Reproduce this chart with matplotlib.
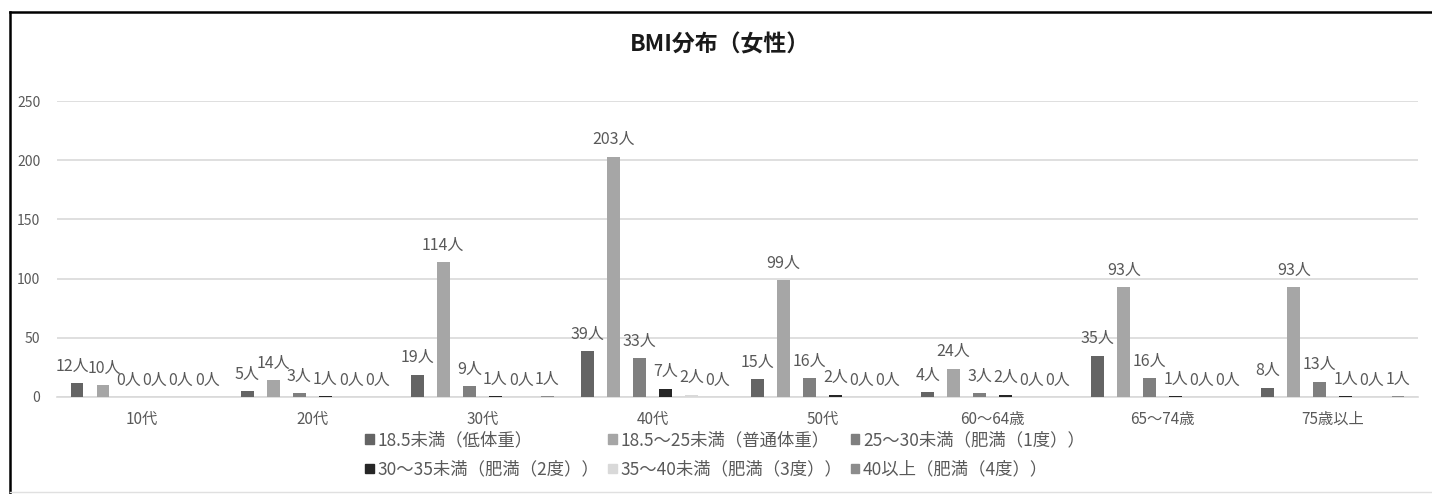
import numpy as np
import matplotlib.pyplot as plt
from matplotlib.patches import Patch
from matplotlib.lines import Line2D

plt.rcParams['font.family'] = ['Noto Sans CJK JP', 'DejaVu Sans']

ages = ['10代', '20代', '30代', '40代', '50代', '60～64歳', '65～74歳', '75歳以上']
series_names = ['18.5未満（低体重）', '18.5～25未満（普通体重）', '25～30未満（肥満（1度））',
                '30～35未満（肥満（2度））', '35～40未満（肥満（3度））', '40以上（肥満（4度））']
underweight = [12, 5, 19, 39, 15, 4, 35, 8]
normal = [10, 14, 114, 203, 99, 24, 93, 93]
obese1 = [0, 3, 9, 33, 16, 3, 16, 13]
obese2 = [0, 1, 1, 7, 2, 2, 1, 1]
obese3 = [0, 0, 0, 2, 0, 0, 0, 0]
obese4 = [0, 0, 1, 0, 0, 0, 0, 1]
all_series = [underweight, normal, obese1, obese2, obese3, obese4]
colors = ['#646464', '#a6a6a6', '#7f7f7f', '#262626', '#d9d9d9', '#8c8c8c']

W, H = 1432, 494
fig = plt.figure(figsize=(W / 100, H / 100), dpi=100)
ax = fig.add_axes([57 / W, 1 - 397 / H, (1418 - 57) / W, (397 - 101) / H])

x = np.arange(len(ages))
step = 0.153
bw = 0.076
label_sets = []
for i, (vals, c) in enumerate(zip(all_series, colors)):
    bars = ax.bar(x + (i - 2.5) * step, vals, width=bw, color=c, zorder=3)
    txts = ax.bar_label(bars, labels=[f'{v}人' for v in vals], padding=6,
                        fontsize=11.5, color='#595959')
    label_sets.append(txts)

# "12人" sits a bit left of its bar in the original
label_sets[0][0].xyann = (-3.5, 6)
label_sets[1][0].xyann = (1, 6)

ax.set_xlim(-0.5, len(ages) - 0.5)
ax.set_ylim(0, 250)
ax.set_yticks(range(0, 251, 50))
ax.yaxis.grid(True, color='#d9d9d9', linewidth=1.2, zorder=0)
ax.set_axisbelow(True)
for s in ['top', 'right', 'left']:
    ax.spines[s].set_visible(False)
ax.spines['bottom'].set_color('#d9d9d9')
ax.spines['bottom'].set_linewidth(1.2)
ax.set_xticks(x)
ax.set_xticklabels(ages)
ax.tick_params(axis='both', length=0, colors='#595959')
ax.tick_params(axis='x', pad=10, labelsize=11)
ax.tick_params(axis='y', pad=12, labelsize=10)

fig.text(720 / W, 1 - 45 / H, 'BMI分布（女性）', ha='center', va='center',
         fontsize=16.5, fontweight='bold', color='#1a1a1a')

handles = [Patch(color=c, label=n) for c, n in zip(colors, series_names)]
order = [0, 3, 1, 4, 2, 5]
fig.legend([handles[k] for k in order], [series_names[k] for k in order],
           ncol=3, loc='center', bbox_to_anchor=(725 / W, 1 - 455 / H),
           frameon=False, fontsize=12.5, labelcolor='#595959',
           handlelength=0.5, handleheight=0.5, handletextpad=0.2,
           columnspacing=0.5, labelspacing=0.65, borderpad=0)

# chart frame
fig.add_artist(Line2D([10 / W, 1], [1 - 12 / H, 1 - 12 / H], color='black', lw=1.8))
fig.add_artist(Line2D([10 / W, 10 / W], [0, 1 - 12 / H], color='black', lw=1.8))
fig.add_artist(Line2D([10 / W, 1], [1 - 492 / H, 1 - 492 / H], color='#e0e0e0', lw=1))

fig.savefig('out.png', dpi=100)
